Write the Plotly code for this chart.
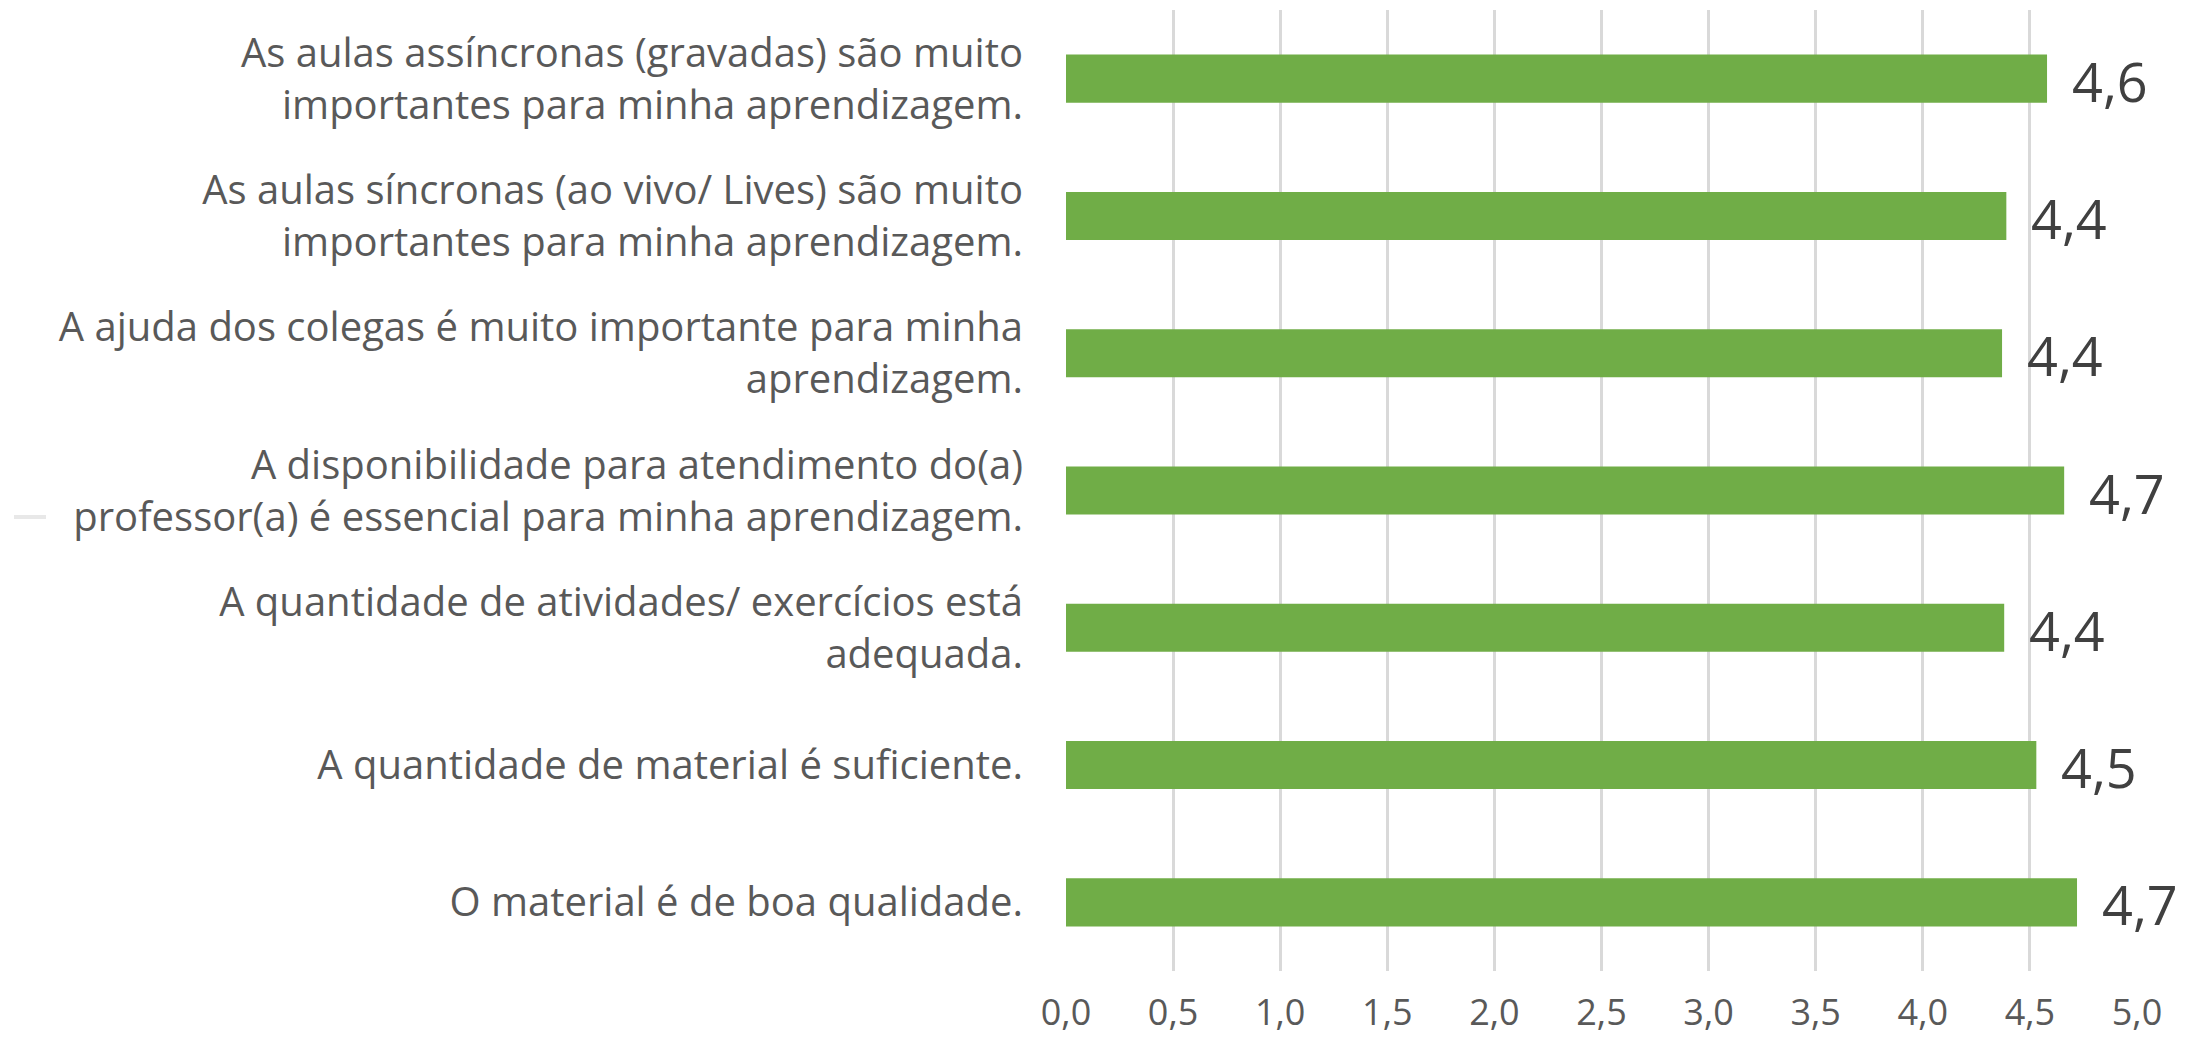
import plotly.graph_objects as go

categories = [
    "As aulas assíncronas (gravadas) são muito<br>importantes para minha aprendizagem.",
    "As aulas síncronas (ao vivo/ Lives) são muito<br>importantes para minha aprendizagem.",
    "A ajuda dos colegas é muito importante para minha<br>aprendizagem.",
    "A disponibilidade para atendimento do(a)<br>professor(a) é essencial para minha aprendizagem.",
    "A quantidade de atividades/ exercícios está<br>adequada.",
    "A quantidade de material é suficiente.",
    "O material é de boa qualidade.",
]
values = [4.58, 4.39, 4.37, 4.66, 4.38, 4.53, 4.72]
x_ticks = [0, 0.5, 1, 1.5, 2, 2.5, 3, 3.5, 4, 4.5, 5]
x_ticklabels = ["0,0", "0,5", "1,0", "1,5", "2,0", "2,5", "3,0", "3,5", "4,0", "4,5", "5,0"]

FONT = "Open Sans"

# page body has an 8px default margin; figure sized/offset to compensate
W, H = 2185, 1032
L, R, T, B = 1058, 56, 2, 69
PW, PH = W - L - R, H - T - B

fig = go.Figure(
    go.Bar(
        x=values,
        y=categories,
        orientation="h",
        marker=dict(color="#70ad47", line=dict(width=0)),
        hoverinfo="skip",
    )
)

annotations = [
    dict(x=v, y=c, xref="x", yref="y", text=f"{v:.1f}".replace(".", ","),
         showarrow=False, xanchor="left", yanchor="middle", xshift=23, yshift=-2,
         font=dict(family=FONT, size=54, color="#404040"))
    for v, c in zip(values, categories)
]

fig.update_layout(
    width=W,
    height=H,
    margin=dict(l=L, r=R, t=T, b=B, pad=0),
    paper_bgcolor="white",
    plot_bgcolor="white",
    bargap=0.65,
    showlegend=False,
    font=dict(family=FONT, color="#595959"),
    xaxis=dict(
        range=[0, 5],
        tickvals=x_ticks,
        ticktext=x_ticklabels,
        showgrid=True,
        gridcolor="#d9d9d9",
        gridwidth=3,
        zeroline=False,
        showline=False,
        ticks="",
        tickfont=dict(family=FONT, size=36, color="#595959"),
        ticklabelstandoff=17,
        automargin=False,
        fixedrange=True,
    ),
    yaxis=dict(
        categoryorder="array",
        categoryarray=list(reversed(categories)),
        showgrid=False,
        zeroline=False,
        showline=False,
        ticks="",
        tickfont=dict(family=FONT, size=40, color="#595959"),
        ticklabelstandoff=42,
        automargin=False,
        fixedrange=True,
    ),
    annotations=annotations,
    shapes=[
        dict(type="line", xref="paper", yref="paper",
             x0=(6 - L) / PW, x1=(38 - L) / PW,
             y0=(963 - 509) / PH, y1=(963 - 509) / PH,
             line=dict(color="#e8e8e8", width=4)),
    ],
)

fig.write_html("out.html")
